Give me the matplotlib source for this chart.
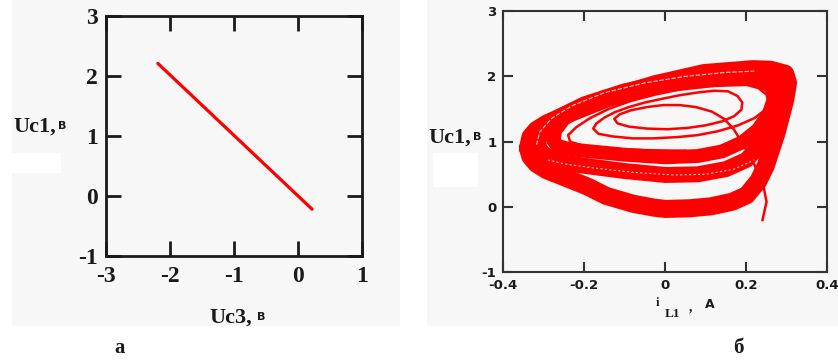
import matplotlib
matplotlib.use("Agg")
import matplotlib.pyplot as plt
from matplotlib.patches import Rectangle

# ---------------- data ----------------
# (a) Uc1 versus Uc3: straight segment
uc3_a = [-2.19, 0.22]
uc1_a = [2.21, -0.22]

# (б) Uc1 versus iL1: phase portrait
# outermost band of the attractor
outer_i = [-0.339, -0.333, -0.318, -0.292, -0.255, -0.191, -0.146, -0.080, -0.028,
           0.000, 0.060, 0.113, 0.165, 0.201, 0.230, 0.248, 0.275, 0.296, 0.303,
           0.296, 0.260, 0.217, 0.096, -0.024, -0.145, -0.230, -0.292, -0.318,
           -0.333, -0.339]
outer_u = [0.90, 0.77, 0.66, 0.56, 0.47, 0.31, 0.17, 0.05, -0.01,
           -0.03, -0.02, 0.01, 0.08, 0.18, 0.40, 0.63, 1.14, 1.64, 1.90,
           2.04, 2.10, 2.11, 2.05, 1.88, 1.66, 1.45, 1.28, 1.18,
           1.07, 0.90]

# lower half of the middle band
mid_a_i = [-0.314, -0.306, -0.285, -0.250, -0.200, -0.100, 0.000, 0.080, 0.150,
           0.200, 0.235, 0.262, 0.282, 0.287, 0.272, 0.220, 0.120, 0.000,
           -0.100, -0.200, -0.262, -0.298, -0.312, -0.314]
mid_a_u = [0.95, 0.84, 0.75, 0.68, 0.63, 0.55, 0.49, 0.50, 0.58,
           0.72, 0.95, 1.25, 1.55, 1.80, 1.98, 2.05, 2.01, 1.90,
           1.77, 1.57, 1.38, 1.20, 1.07, 0.95]

# upper half of the middle band
mid_b_i = [-0.276, -0.268, -0.240, -0.200, -0.100, 0.000, 0.080, 0.140, 0.190,
           0.228, 0.255, 0.268, 0.262, 0.215, 0.120, 0.000, -0.100, -0.200,
           -0.250, -0.272, -0.276]
mid_b_u = [1.02, 0.94, 0.89, 0.86, 0.80, 0.76, 0.78, 0.85, 0.99,
           1.18, 1.42, 1.65, 1.85, 1.96, 1.94, 1.86, 1.72, 1.53,
           1.35, 1.17, 1.02]

# faint gaps that run inside the bands
gap1_i = [-0.318, -0.310, -0.280, -0.230, -0.150, -0.050, 0.050, 0.150, 0.220]
gap1_u = [0.95, 1.15, 1.36, 1.55, 1.75, 1.90, 2.00, 2.06, 2.08]
gap2_i = [-0.290, -0.250, -0.180, -0.080, 0.020, 0.100, 0.170, 0.220]
gap2_u = [0.72, 0.66, 0.60, 0.53, 0.49, 0.50, 0.58, 0.72]

# transient that starts near (0.24, -0.2) and spirals out to the attractor
spiral_i = [0.240, 0.250, 0.243, 0.228, 0.209, 0.188, 0.168, 0.145, 0.115, 0.075,
            0.035, -0.005, -0.045, -0.085, -0.112, -0.126, -0.118, -0.090, -0.045,
            0.005, 0.055, 0.100, 0.140, 0.170, 0.188, 0.190, 0.178, 0.155,
            0.120, 0.077, 0.035, -0.005, -0.050, -0.090, -0.125, -0.150, -0.170,
            -0.178, -0.165, -0.130, -0.080, -0.030, 0.030, 0.080, 0.130, 0.180,
            0.220, 0.245, 0.255, 0.250, 0.230, 0.195, 0.150, 0.095, 0.036,
            -0.025, -0.087, -0.140, -0.186, -0.220, -0.240, -0.235, -0.200,
            -0.130, -0.050, 0.050]
spiral_u = [-0.20, 0.08, 0.30, 0.55, 0.77, 1.00, 1.20, 1.35, 1.46, 1.53,
            1.56, 1.56, 1.53, 1.48, 1.42, 1.35, 1.28, 1.23, 1.20,
            1.19, 1.21, 1.25, 1.31, 1.39, 1.49, 1.60, 1.70, 1.77,
            1.78, 1.75, 1.71, 1.66, 1.60, 1.53, 1.45, 1.37, 1.28,
            1.20, 1.12, 1.08, 1.05, 1.05, 1.07, 1.10, 1.16, 1.25,
            1.36, 1.48, 1.60, 1.72, 1.82, 1.88, 1.90, 1.86, 1.80,
            1.72, 1.62, 1.50, 1.36, 1.22, 1.10, 1.00, 0.93,
            0.89, 0.87, 0.86]

# tick labels
a_xticks = [-3, -2, -1, 0, 1]
a_xlabels = ["-3", "-2", "-1", "0", "1"]
a_yticks = [-1, 0, 1, 2, 3]
a_ylabels = ["-1", "0", "1", "2", "3"]
b_xticks = [-0.4, -0.2, 0.0, 0.2, 0.4]
b_xlabels = ["-0.4", "-0.2", "0", "0.2", "0.4"]
b_yticks = [-1, 0, 1, 2, 3]
b_ylabels = ["-1", "0", "1", "2", "3"]

# ---------------- figure ----------------
W, H = 838, 360
fig = plt.figure(figsize=(W / 100, H / 100), dpi=100)
fig.patch.set_facecolor("white")

SERIF = "Liberation Serif"
INK = "#1a1a1a"
RED = "#ff0000"


def fx(px):
    return px / W


def fy(py):
    return 1 - py / H


# light grey panels with white spots
for x0, y0, x1, y1, c in [(12, 0, 400, 326, "#f7f7f7"), (427, 0, 838, 326, "#f7f7f7"),
                          (12, 153, 61, 173, "white"), (433, 153, 478, 187, "white")]:
    fig.patches.append(Rectangle((fx(x0), fy(y1)), fx(x1) - fx(x0), fy(y0) - fy(y1),
                                 transform=fig.transFigure, facecolor=c,
                                 edgecolor="none", zorder=-10))

# ---- panel a ----
axa = fig.add_axes([fx(106), fy(256), fx(256), 240 / H])
axa.set_facecolor("none")
axa.plot(uc3_a, uc1_a, color=RED, lw=2.3, solid_capstyle="round")
axa.set_xlim(-3, 1)
axa.set_ylim(-1, 3)
axa.set_xticks(a_xticks)
axa.set_xticklabels(a_xlabels)
axa.set_yticks(a_yticks)
axa.set_yticklabels(a_ylabels)
axa.tick_params(direction="in", length=11, width=2.0, top=True, right=True,
                labelsize=17, color=INK, labelcolor=INK)
axa.tick_params(axis="x", pad=7)
axa.tick_params(axis="y", pad=6)
for lab in axa.get_xticklabels() + axa.get_yticklabels():
    lab.set_family(SERIF)
    lab.set_fontweight("bold")
for s in axa.spines.values():
    s.set_linewidth(2.0)
    s.set_color(INK)

fig.text(fx(13), fy(127), "Uc1,", family=SERIF, fontsize=16, fontweight="bold",
         color=INK, va="center", ha="left")
fig.text(fx(58), fy(126), "В", family="DejaVu Sans", fontsize=8, fontweight="bold",
         color=INK, va="center", ha="left")
fig.text(fx(252), fy(318), "Uc3,", family=SERIF, fontsize=16, fontweight="bold",
         color=INK, va="center", ha="right")
fig.text(fx(257), fy(317), "В", family="DejaVu Sans", fontsize=8, fontweight="bold",
         color=INK, va="center", ha="left")
fig.text(fx(120), fy(348), "а", family=SERIF, fontsize=15, fontweight="bold",
         color=INK, va="center", ha="center")

# ---- panel б ----
axb = fig.add_axes([fx(503.3), fy(272.3), 324 / W, 261.3 / H])
axb.set_facecolor("none")
band = dict(color=RED, solid_joinstyle="round", solid_capstyle="round")
axb.plot(outer_i, outer_u, lw=13, **band)
axb.plot(mid_a_i, mid_a_u, lw=11.5, **band)
axb.plot(mid_b_i, mid_b_u, lw=10, **band)
axb.plot(gap1_i, gap1_u, color="white", lw=0.8, dashes=(4, 1.5), alpha=0.8)
axb.plot(gap2_i, gap2_u, color="white", lw=0.8, dashes=(2, 2), alpha=0.8)
axb.plot(spiral_i, spiral_u, color=RED, lw=1.8, solid_joinstyle="round")
axb.set_xlim(-0.4, 0.4)
axb.set_ylim(-1, 3)
axb.set_xticks(b_xticks)
axb.set_xticklabels(b_xlabels)
axb.set_yticks(b_yticks)
axb.set_yticklabels(b_ylabels)
axb.tick_params(direction="in", length=7, width=1.5, top=True, right=True,
                labelsize=9.5, pad=5, color="#333333", labelcolor=INK)
for lab in axb.get_xticklabels() + axb.get_yticklabels():
    lab.set_fontweight("bold")
for s in axb.spines.values():
    s.set_linewidth(1.5)
    s.set_color("#333333")

fig.text(fx(428), fy(138), "Uc1,", family=SERIF, fontsize=16, fontweight="bold",
         color=INK, va="center", ha="left")
fig.text(fx(473), fy(137), "В", family="DejaVu Sans", fontsize=8, fontweight="bold",
         color=INK, va="center", ha="left")
fig.text(fx(657), fy(303), "i", family=SERIF, fontsize=9, fontweight="bold",
         color=INK, va="center", ha="center")
fig.text(fx(672), fy(314), "L1", family=SERIF, fontsize=9.5, fontweight="bold",
         color=INK, va="center", ha="center")
fig.text(fx(691), fy(307), ",", family=SERIF, fontsize=10, fontweight="bold",
         color=INK, va="center", ha="center")
fig.text(fx(710), fy(304), "A", fontsize=9, fontweight="bold", color=INK,
         va="center", ha="center")
fig.text(fx(738), fy(348), "б", family=SERIF, fontsize=15, fontweight="bold",
         color=INK, va="center", ha="center")

fig.savefig("out.png", dpi=100)
